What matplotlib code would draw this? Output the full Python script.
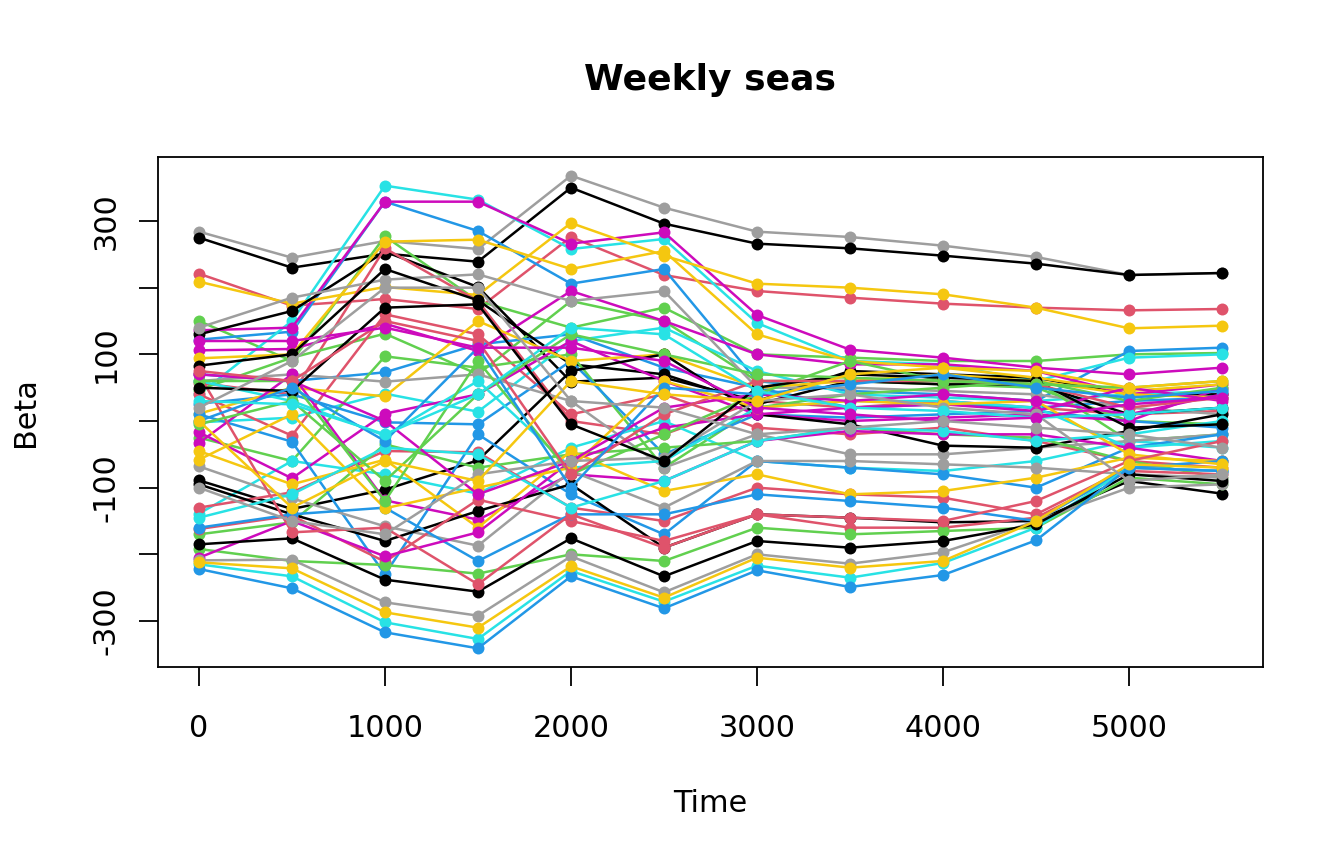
import matplotlib
matplotlib.use("Agg")
import matplotlib.pyplot as plt
import numpy as np

time = [0, 500, 1000, 1500, 2000, 2500, 3000, 3500, 4000, 4500, 5000, 5500]

palette = ["#000000", "#DF536B", "#61D04F", "#2297E6",
           "#28E2E5", "#CD0BBC", "#F5C710", "#9E9E9E"]

# series grouped by colour (black, red, green, blue, cyan, magenta, yellow, gray)
black = [
    [275, 230, 251, 239, 350, 296, 266, 259, 248, 236, 219, 222],
    [130, 165, 254, 201, 59, 65, 30, 75, 70, 65, 40, 40],
    [83, 100, 228, 181, 85, 70, 25, 60, 55, 55, 10, 20],
    [-89, -132, -103, -59, 75, 100, 10, -5, -37, -40, -15, 10],
    [-95, -140, -180, -135, -95, -190, -140, -145, -152, -150, -90, -109],
    [-185, -176, -238, -256, -176, -233, -180, -190, -180, -155, -80, -90],
    [50, 45, 170, 175, -5, -60, 50, 70, 65, 60, -10, -5],
]
red = [
    [221, 173, 183, 168, 276, 219, 195, 185, 176, 170, 166, 168],
    [57, 40, 259, 180, 0, -20, 30, 20, 30, 20, 10, 15],
    [40, -22, 160, 130, 10, 40, -10, -20, -10, -30, -60, -70],
    [-130, -107, -45, -47, -130, -150, -100, -110, -115, -140, -70, -75],
    [-162, -142, -211, -118, -150, -180, -140, -160, -160, -145, -75, -80],
    [70, -167, -160, -245, -140, -190, -140, -145, -150, -120, -60, -30],
    [75, 60, 150, 120, -80, 10, 60, 60, 60, 55, 20, 35],
]
green = [
    [150, 90, 277, 180, 140, 170, 100, 95, 90, 90, 100, 102],
    [47, 95, 131, 70, 180, 150, 60, 60, 55, 50, 0, -5],
    [-25, -60, 97, 80, 100, -70, 20, 40, 50, 60, -30, -20],
    [-170, -152, -35, -70, -50, -40, -30, -10, -20, -25, -60, -85],
    [-192, -210, -216, -229, -200, -210, -160, -170, -165, -160, -85, -95],
    [60, 60, -120, 90, -80, -20, 40, 90, 60, 60, 30, 50],
    [-5, 30, -90, 40, 130, 100, 70, 65, 60, 55, 50, 60],
]
blue = [
    [122, 134, 329, 285, 206, 228, 60, 45, 40, 30, 105, 110],
    [70, 60, 73, 115, 130, 80, 50, 20, 25, 20, 30, 35],
    [26, 40, -2, -5, 90, -50, 10, 5, 10, 15, 0, -10],
    [10, -31, -230, -20, -110, -170, -60, -70, -80, -100, -40, -20],
    [-160, -140, -130, -210, -140, -140, -110, -120, -130, -150, -70, -60],
    [-222, -251, -317, -341, -233, -281, -224, -249, -231, -179, -70, -75],
    [0, 50, -30, 110, -100, 50, 40, 55, 70, 50, 35, 45],
]
cyan = [
    [40, 150, 353, 332, 258, 273, 147, 90, 85, 60, 95, 100],
    [-2, 5, 41, 14, 120, 140, 75, 40, 35, 30, 40, 45],
    [-139, -60, -80, -109, -40, 0, -60, -70, -75, -60, -30, -40],
    [60, 30, -22, 60, -70, -60, 20, 30, 30, 20, -40, -30],
    [-215, -233, -302, -327, -225, -271, -217, -235, -213, -160, -70, -75],
    [-145, -110, -40, -50, -130, -90, -30, -10, -15, -30, -20, 0],
    [30, 25, -20, 40, 140, 130, 45, 20, 15, 5, 10, 20],
]
magenta = [
    [136, 140, 329, 329, 266, 283, 159, 107, 95, 80, 70, 80],
    [106, 108, 146, 105, 195, 150, 100, 85, 85, 75, 40, 55],
    [-17, -86, 11, 40, 120, 60, 10, 0, 5, 10, 0, 50],
    [-33, 70, -119, -148, -80, -90, -30, -15, -20, -20, -40, -60],
    [-205, -150, -203, -167, -60, -10, 10, 20, 25, 15, 50, 30],
    [70, 60, 0, -110, -60, 20, 40, 30, 40, 30, 10, 40],
    [120, 120, 140, 110, 110, 90, 20, 10, 0, 5, 25, 35],
]
yellow = [
    [209, 176, 201, 189, 297, 248, 206, 200, 190, 170, 139, 143],
    [94, 100, 269, 272, 228, 255, 130, 90, 80, 65, 45, 55],
    [11, 50, 37, 150, 90, 100, 50, 60, 70, 60, 40, 35],
    [-45, -95, -58, -160, -45, -105, -80, -110, -105, -85, -55, -60],
    [-58, 10, -131, -100, -70, 60, 20, 30, 25, 30, -50, -65],
    [-212, -221, -287, -310, -218, -265, -205, -220, -210, -150, -65, -70],
    [0, -130, -60, -90, 60, 40, 30, 70, 80, 75, 50, 60],
]
gray = [
    [284, 245, 270, 258, 368, 320, 284, 276, 263, 246, 219, 222],
    [140, 185, 212, 220, 180, 195, 50, 50, 45, 40, 20, 10],
    [60, 70, 59, 70, 30, -70, -20, -50, -50, -40, -30, -20],
    [-68, -116, -158, -187, -75, -130, -60, -60, -65, -70, -80, -85],
    [-209, -208, -272, -292, -203, -257, -200, -214, -197, -150, -100, -95],
    [-100, -150, -170, -80, -60, -55, 30, 40, 20, 10, -90, -80],
    [20, 90, 200, 200, 30, 20, -20, -10, 0, -10, -20, -40],
]

groups = [black, red, green, blue, cyan, magenta, yellow, gray]

y_ticks = [-300, -200, -100, 0, 100, 200, 300]
y_labels = ["-300", "", "-100", "", "100", "", "300"]
x_ticks = [0, 1000, 2000, 3000, 4000, 5000]

fig = plt.figure(figsize=(13.44, 8.64), dpi=100)
ax = fig.add_axes([158/1344, 1 - 667/864, (1263-158)/1344, (667-157)/864])

z = 3
for k in range(7):
    for ci, grp in enumerate(groups):
        # the first gray series sits underneath the first black one
        zo = 1 if (k == 0 and ci == 7) else z
        ax.plot(time, grp[k], color=palette[ci], lw=1.8, marker='o',
                markersize=8.6, markeredgewidth=0, zorder=zo)
        z += 1

ax.set_xlim(-220, 5720)
ax.set_ylim(-369, 396)
ax.set_xticks(x_ticks)
ax.set_xticklabels([str(v) for v in x_ticks])
ax.set_yticks(y_ticks)
ax.set_yticklabels(y_labels, rotation=90, va='center')
for s in ax.spines.values():
    s.set_linewidth(1.3)
ax.tick_params(axis='both', length=14, width=1.3, labelsize=21.8, direction='out')
ax.tick_params(axis='x', pad=20)
ax.tick_params(axis='y', pad=13)
ax.set_xlabel("Time", fontsize=21.8, labelpad=33)
ax.set_ylabel("Beta", fontsize=21.8, labelpad=37)
ax.set_title("Weekly seas", fontsize=26, fontweight='bold', pad=48)

fig.savefig("out.png", dpi=100)
